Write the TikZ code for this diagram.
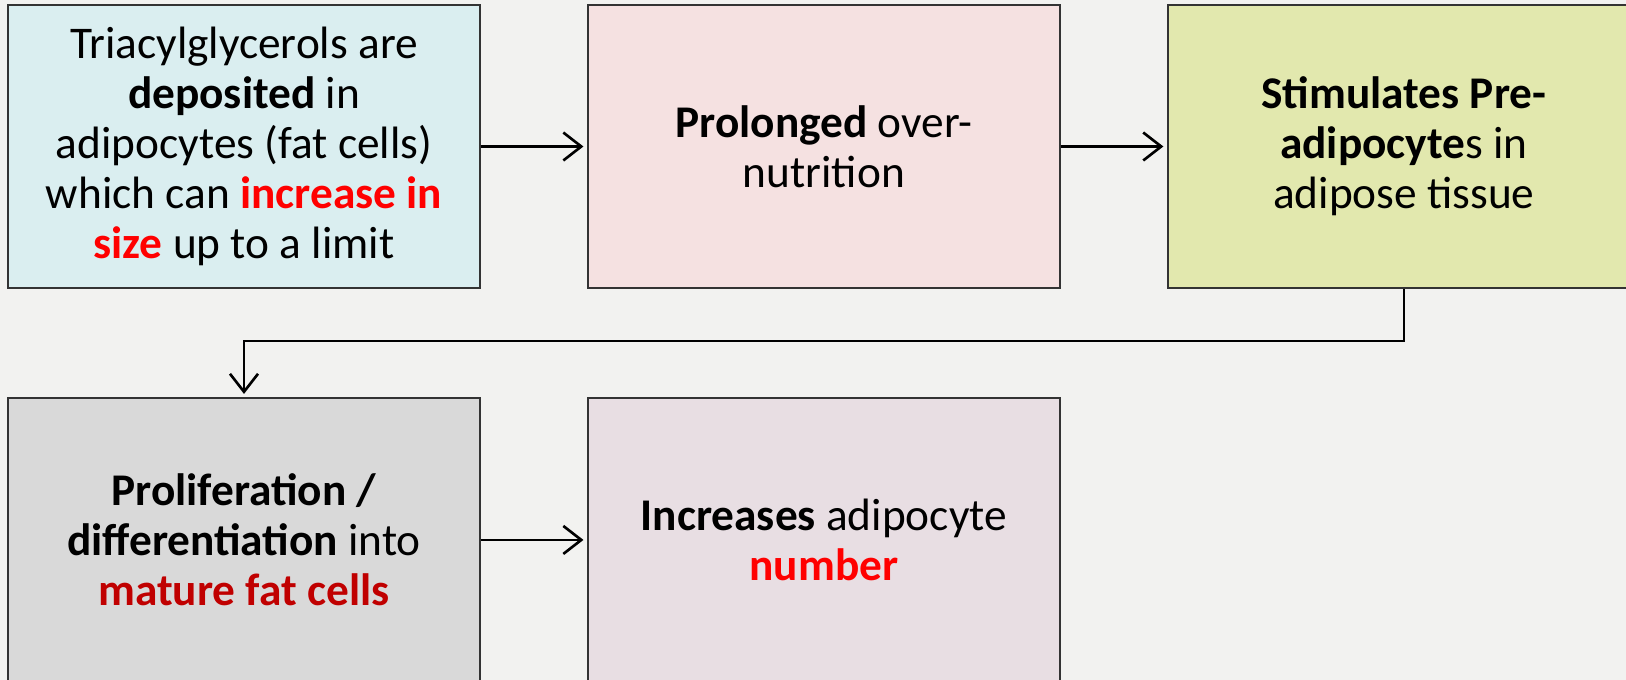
\documentclass[tikz,border=0pt]{standalone}
\usepackage{fontspec}
\setmainfont{Carlito}
\usepackage{tikz}
\usetikzlibrary{positioning, arrows.meta, calc}
\definecolor{bgcol}{HTML}{F2F2F0}
\definecolor{cyanbox}{HTML}{DAEEF0}
\definecolor{pinkbox}{HTML}{F5E1E1}
\definecolor{limebox}{HTML}{E2E8AE}
\definecolor{greybox}{HTML}{D9D9D9}
\definecolor{mauvebox}{HTML}{E8DEE3}
\definecolor{brdcol}{HTML}{333333}
\definecolor{hotred}{HTML}{FF0000}
\definecolor{darkred}{HTML}{C00000}
\tikzset{
  blk/.style = {draw=brdcol, rectangle, align=center, line width=1.1pt,
                minimum width=9.44cm, minimum height=5.66cm, inner sep=4pt,
                font=\fontsize{25.8}{28.4}\selectfont},
  ar/.style  = {-{Straight Barb[length=3.6mm, width=5.6mm, line width=1.5pt]},
                line width=1.5pt, shorten >=2pt},
}

\begin{document}
\begin{tikzpicture}[node distance=2.17cm and 2.12cm]
    \useasboundingbox (0,0) rectangle (32.52,-13.6);
    \fill[bgcol] (0,0) rectangle (32.52,-13.6);
    % top row
    \node[blk, fill=cyanbox] (trig) at (4.88,-2.93)
      {Triacylglycerols are\\ \textbf{deposited} in\\ adipocytes (fat cells)\\
       which can \textcolor{hotred}{\textbf{increase in}}\\
       \textcolor{hotred}{\textbf{size}} up to a limit};
    \node[blk, fill=pinkbox, right=of trig] (over)
      {\textbf{Prolonged} over-\\ nutrition};
    \node[blk, fill=limebox, right=of over] (stim)
      {\textbf{Stimulates Pre-}\\ \textbf{adipocyte}s in\\ adipose tissue};
    % bottom row
    \node[blk, fill=greybox, below=of trig] (prolif)
      {\textbf{Proliferation /}\\ \textbf{differentiation} into\\
       \textcolor{darkred}{\textbf{mature fat cells}}};
    \node[blk, fill=mauvebox, right=of prolif] (incr)
      {\textbf{Increases} adipocyte\\ \textcolor{hotred}{\textbf{number}}};
    % connectors
    \coordinate (bend) at ([yshift=-1.04cm]stim.south);
    \draw[ar] (trig) -- (over);
    \draw[ar] (over) -- (stim);
    \draw[ar] (stim.south) -- (bend) -| (prolif.north);
    \draw[ar] (prolif) -- (incr);
  \end{tikzpicture}
\end{document}
